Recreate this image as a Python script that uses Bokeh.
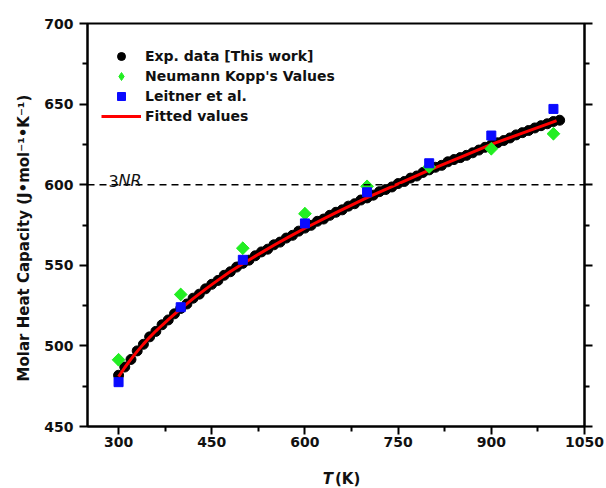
import math
from bokeh.plotting import figure
from bokeh.models import Range1d, LinearAxis, FixedTicker, Span, Label, Legend, LegendItem
from bokeh.embed import file_html
from bokeh.resources import INLINE

# ---- data ----
exp_T = [300, 310, 320, 330, 340, 350, 360, 370, 380, 390,
         400, 410, 420, 430, 440, 450, 460, 470, 480, 490,
         500, 510, 520, 530, 540, 550, 560, 570, 580, 590,
         600, 610, 620, 630, 640, 650, 660, 670, 680, 690,
         700, 710, 720, 730, 740, 750, 760, 770, 780, 790,
         800, 810, 820, 830, 840, 850, 860, 870, 880, 890,
         900, 910, 920, 930, 940, 950, 960, 970, 980, 990,
         1000, 1010]
exp_cp = [481.8, 486.9, 491.6, 496.9, 501.0, 505.6, 509.0, 513.1, 516.1, 519.9,
          523.2, 526.0, 529.6, 532.1, 535.4, 538.2, 540.6, 543.8, 546.0, 548.9,
          551.2, 553.2, 555.9, 558.3, 560.0, 562.7, 564.4, 566.9, 568.6, 571.2,
          573.1, 574.8, 577.3, 578.7, 581.0, 582.9, 584.4, 586.7, 588.2, 590.5,
          591.8, 593.5, 595.7, 597.0, 598.6, 600.7, 602.0, 604.1, 605.4, 607.6,
          609.2, 610.8, 612.0, 614.2, 615.6, 616.8, 618.2, 619.8, 621.5, 623.2,
          624.7, 626.0, 627.4, 629.0, 630.9, 632.3, 633.6, 635.2, 636.6, 637.8,
          639.2, 640.0]

fit_T = [300, 310, 320, 330, 340, 350, 360, 370, 380, 390,
         400, 420, 440, 460, 480, 500, 525, 550, 575, 600,
         650, 700, 750, 800, 850, 900, 950, 1000, 1005]
fit_cp = [481.0, 486.6, 491.8, 496.6, 501.1, 505.3, 509.2, 512.8, 516.3, 519.7,
          523.0, 529.3, 535.2, 540.8, 546.1, 551.0, 556.8, 562.4, 567.8, 573.0,
          582.7, 592.0, 600.5, 609.0, 617.0, 625.0, 632.0, 639.0, 639.7]

ref_T = [300, 400, 500, 600, 700, 800, 900, 1000]
neumann_kopp = [491.4, 531.9, 560.6, 582.0, 599.0, 611.0, 622.3, 631.6]
leitner = [477.5, 524.0, 553.4, 576.0, 595.3, 613.3, 630.5, 647.0]

x_major = [300, 450, 600, 750, 900, 1050]
x_minor = [375, 525, 675, 825, 975]
y_major = [450, 500, 550, 600, 650, 700]
y_minor = [475, 525, 575, 625, 675]
three_nr = 600

FONT = "DejaVu Sans"
GREEN = "#22ee22"
BLUE = "#0a0aff"

p = figure(width=606, height=488, x_range=Range1d(250, 1050), y_range=Range1d(450, 700),
           output_backend="svg", toolbar_location=None,
           min_border_left=87, min_border_right=22, min_border_top=23, min_border_bottom=62)
p.xgrid.visible = False
p.ygrid.visible = False
p.outline_line_color = "black"
p.outline_line_width = 2
p.outline_line_alpha = 1.0
p.background_fill_color = "white"
p.border_fill_color = "white"


def style_axis(ax, ticks, minor):
    ax.ticker = FixedTicker(ticks=ticks, minor_ticks=minor)
    ax.axis_line_width = 2
    ax.axis_line_color = "black"
    ax.major_tick_line_width = 2
    ax.minor_tick_line_width = 2
    ax.major_tick_line_color = "black"
    ax.minor_tick_line_color = "black"
    ax.major_tick_in = 0
    ax.major_tick_out = 8
    ax.minor_tick_in = 0
    ax.minor_tick_out = 5
    ax.major_label_text_font = FONT
    ax.major_label_text_font_style = "bold"
    ax.major_label_text_font_size = "14px"
    ax.major_label_text_color = "#111111"


style_axis(p.xaxis[0], x_major, x_minor)
style_axis(p.yaxis[0], y_major, y_minor)
p.xaxis[0].major_label_standoff = 2
p.yaxis[0].major_label_standoff = 6
p.yaxis[0].axis_label = "Molar Heat Capacity (J\u2022mol\u207b\u00b9\u2022K\u207b\u00b9)" + "\u00a0" * 5
p.yaxis[0].axis_label_text_font = FONT
p.yaxis[0].axis_label_text_font_style = "bold"
p.yaxis[0].axis_label_text_font_size = "15px"
p.yaxis[0].axis_label_text_color = "#111111"
p.yaxis[0].axis_label_standoff = 8

right = LinearAxis()
style_axis(right, y_major, y_minor)
right.major_label_text_color = None
p.add_layout(right, "right")

# dashed 3NR line
p.add_layout(Span(location=three_nr, dimension="width", line_color="black",
                  line_width=1.5, line_dash="7 5"))
p.add_layout(Label(x=284, y=three_nr, y_offset=4, text="3", text_font=FONT,
                   text_font_size="16px", text_color="#111111", text_baseline="alphabetic"))
p.add_layout(Label(x=284, y=three_nr, x_offset=10, y_offset=4, text="NR", text_font=FONT,
                   text_font_style="italic", text_font_size="16px", text_color="#111111",
                   text_baseline="alphabetic"))

# x-axis title as labels in the panel below (italic T)
p.add_layout(Label(x=650, y=450, x_offset=-3, y_offset=-52, text="T", text_font=FONT,
                   text_font_style="bold italic", text_font_size="15px", text_color="#111111",
                   text_align="right", text_baseline="middle"), "below")
p.add_layout(Label(x=650, y=450, x_offset=-1, y_offset=-52, text=" (K)", text_font=FONT,
                   text_font_style="bold", text_font_size="15px", text_color="#111111",
                   text_align="left", text_baseline="middle"), "below")

r_exp = p.scatter(exp_T, exp_cp, marker="circle", size=10, fill_color="black", line_color="black")
r_fit = p.line(fit_T, fit_cp, line_color="#ff0000", line_width=3)
# diamond glyph (used for the legend symbol); fully covered by the rotated squares below
r_nk_leg = p.scatter(ref_T, neumann_kopp, marker="diamond", size=12,
                     fill_color=GREEN, line_color=GREEN)
r_nk = p.scatter(ref_T, neumann_kopp, marker="square", angle=math.pi / 4, size=9,
                 fill_color=GREEN, line_color=GREEN)
r_le = p.scatter(ref_T, leitner, marker="square", size=9, fill_color=BLUE, line_color=BLUE)

legend = Legend(items=[
    LegendItem(label="Exp. data [This work]", renderers=[r_exp]),
    LegendItem(label="Neumann Kopp's Values", renderers=[r_nk_leg]),
    LegendItem(label="Leitner et al.", renderers=[r_le]),
    LegendItem(label="Fitted values", renderers=[r_fit]),
], location=(14, 300), border_line_color=None, background_fill_alpha=0,
    label_text_font=FONT, label_text_font_style="bold", label_text_font_size="14px",
    label_text_color="#111111",
    glyph_width=40, glyph_height=20, label_height=20, spacing=0, padding=0, margin=0,
    label_standoff=4)
p.add_layout(legend)

open("out.html", "w").write(file_html(p, INLINE))
